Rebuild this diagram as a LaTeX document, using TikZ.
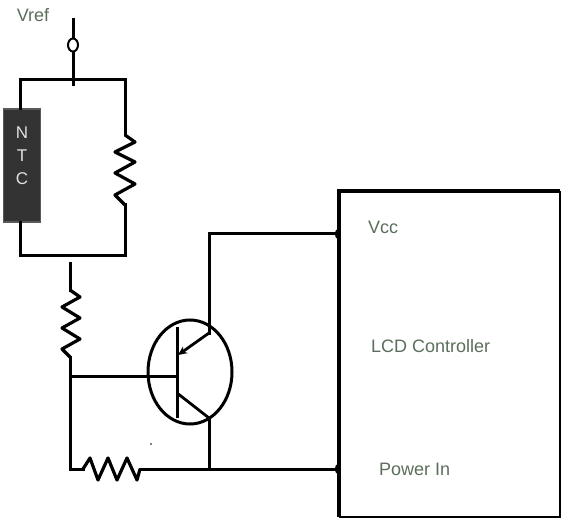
\documentclass[tikz,border=0pt]{standalone}
\usepackage{fontspec}
\setmainfont{Liberation Sans}
\usetikzlibrary{arrows.meta}
\definecolor{lbl}{HTML}{5B6E5B}
\definecolor{ntcfill}{HTML}{333333}
\tikzset{
  wire/.style={line width=3pt, line cap=rect},
  res/.style={line width=3.2pt, line join=round},
  lab/.style={text=lbl, font=\fontsize{18}{20}\selectfont, inner sep=0pt},
  ntclab/.style={text=white!88!black, font=\fontsize{17}{19}\selectfont, inner sep=0pt},
  blob/.style={fill=black, inner sep=0pt, minimum width=4pt, minimum height=9pt, ellipse},
}
\usetikzlibrary{shapes.geometric}
\begin{document}
\begin{tikzpicture}[x=1pt,y=-1pt]
\useasboundingbox (0,0) rectangle (561,518);
% labels
\node[lab] (vref) at (33,15) {Vref};
% Vref terminal
\coordinate (vtop) at (73,20);
\coordinate (vjun) at (73,80);
\node[draw, line width=2pt, ellipse, minimum width=10pt, minimum height=13pt, inner sep=0pt, fill=white] (term) at (73,45) {};
\draw[wire] (vtop) -- (term.north);
\draw[wire] (term.south) -- (73,85);
\coordinate (tl) at (20,80);
\coordinate (tr) at (125,80);
\draw[wire] (tl) -- (tr);
% NTC
\node[draw=black!65, line width=1.5pt, fill=ntcfill, minimum width=37pt, minimum height=113pt, inner sep=0pt] (ntc) at (22,165.5) {};
\node[ntclab] (ntcN) at (22,133) {N};
\node[ntclab] (ntcT) at (22,156) {T};
\node[ntclab] (ntcC) at (22,179) {C};
\draw[wire] (tl) -- (tl |- ntc.north);
\coordinate (bl) at (20,255);
\coordinate (br) at (125,255);
\draw[wire] (bl |- ntc.south) -- (bl) -- (br);
% right resistor (vertical)
\coordinate (r1a) at (125,135);
\coordinate (r1b) at (125,205);
\draw[wire] (tr) -- (r1a);
\draw[res] (r1a) -- (135,142) -- (115,152) -- (135,162) -- (115,173) -- (135,184) -- (115,195) -- (r1b);
\draw[wire] (r1b) -- (br);
% lower left resistor (vertical)
\coordinate (r2top) at (70,263);
\coordinate (r2a) at (70,290);
\coordinate (r2b) at (70,357);
\draw[wire] (r2top) -- (r2a);
\draw[res] (r2a) -- (80,297) -- (62,307) -- (80,318) -- (62,328) -- (80,339) -- (62,349) -- (r2b);
\coordinate (bj) at (70,376);
\coordinate (lb) at (70,469);
\draw[wire] (r2b) -- (bj) -- (lb);
% transistor
\node[draw, line width=3pt, ellipse, minimum width=84pt, minimum height=104pt, inner sep=0pt] (tr1) at (190,372) {};
\coordinate (bb1) at (177,327);
\coordinate (bb2) at (177,418);
\draw[wire, line cap=butt] (bb1) -- (bb2);
\draw[wire] (bj) -- (177,376);
\coordinate (etop) at (209,333);
\coordinate (cbot) at (209,418);
\draw[line width=2.8pt, -{Stealth[length=9pt,width=8pt]}] (etop) -- (178,355);
\draw[line width=2.8pt] (177,393) -- (cbot);
% collector/emitter wires
\coordinate (vccw) at (209,234);
\node[blob] (bvcc) at (337,234) {};
\node[blob] (bpin) at (337,469) {};
\draw[wire] (etop) -- (vccw) -- (bvcc.center);
\draw[wire] (cbot) -- (209,469);
% bottom resistor (horizontal)
\coordinate (r3a) at (83,469);
\coordinate (r3b) at (140,469);
\draw[wire] (lb) -- (r3a);
\draw[res] (r3a) -- (90,458) -- (98,480) -- (108,458) -- (117,480) -- (127,458) -- (137,480) -- (r3b);
\draw[wire] (r3b) -- (bpin.center);
\fill (151,444) circle (0.9pt);
% LCD controller box
\coordinate (bx1) at (339,191);
\coordinate (bx2) at (560,517);
\draw[line width=1.5pt] (bx1 -| bx2) -- (bx2) -- (bx2 -| bx1);
\draw[line width=3.5pt] (bx2 -| bx1) -- (bx1) -- (bx1 -| bx2);
\node[lab, anchor=west] (vcc) at (368,227) {Vcc};
\node[lab, anchor=west] (lcd) at (371,346) {LCD Controller};
\node[lab, anchor=west] (pin) at (379,469) {Power In};
\end{tikzpicture}
\end{document}
